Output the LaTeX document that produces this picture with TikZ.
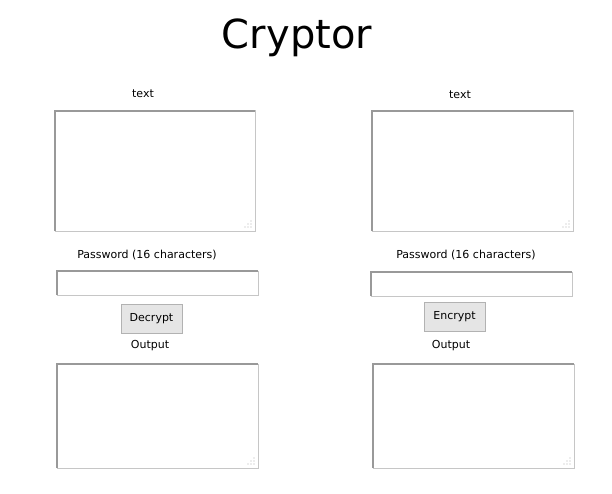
\documentclass[tikz,border=0pt]{standalone}
\usepackage{fontspec}
\setmainfont{DejaVu Sans}
\begin{document}
\begin{tikzpicture}[x=1pt,y=-1pt,
  lbl/.style={inner sep=0pt,font=\fontsize{11}{13}\selectfont},
  box/.style={draw=gray!45,line width=1pt,fill=white},
  btn/.style={draw=gray!60,fill=gray!20,line width=0.8pt,inner sep=0pt,font=\fontsize{11}{13}\selectfont}]
\useasboundingbox (0,0) rectangle (612,494);
\fill[white] (0,0) rectangle (612,494);
\node[inner sep=0pt,font=\fontsize{40}{44}\selectfont] (title) at (297,38) {Cryptor};
% helper macro for textbox with dark top/left
\newcommand{\uibox}[5]{%
  \draw[box] (#1,#2) rectangle (#3,#4);
  \draw[gray!80,line width=1.2pt] (#1,#4) -- (#1,#2) -- (#3,#2);
  \coordinate (#5) at ({(#1+#3)/2},{(#2+#4)/2});}
\newcommand{\uigrip}[2]{%
  \foreach \dx/\dy in {0/0,-3/0,-6/0,0/-3,-3/-3,0/-6}{\fill[gray!60] (#1+\dx,#2+\dy) circle (0.6);}}
\node[lbl] (t1) at (143,94) {text};
\node[lbl] (t2) at (460,95) {text};
\uibox{55}{111}{255}{231}{ta1}\uigrip{251}{227}
\uibox{372}{111}{573}{231}{ta2}\uigrip{569}{227}
\node[lbl] (p1) at (147,255) {Password (16 characters)};
\node[lbl] (p2) at (466,255) {Password (16 characters)};
\uibox{57}{271}{258}{295}{in1}
\uibox{371}{272}{572}{296}{in2}
\node[btn,minimum width=61pt,minimum height=29pt] (b1) at (151.5,318.5) {Decrypt};
\node[btn,minimum width=61pt,minimum height=29pt] (b2) at (454.5,316.5) {Encrypt};
\node[lbl] (o1) at (150,346) {Output};
\node[lbl] (o2) at (451,346) {Output};
\uibox{57}{364}{258}{468}{out1}\uigrip{254}{464}
\uibox{373}{364}{574}{468}{out2}\uigrip{570}{464}
\end{tikzpicture}
\end{document}
